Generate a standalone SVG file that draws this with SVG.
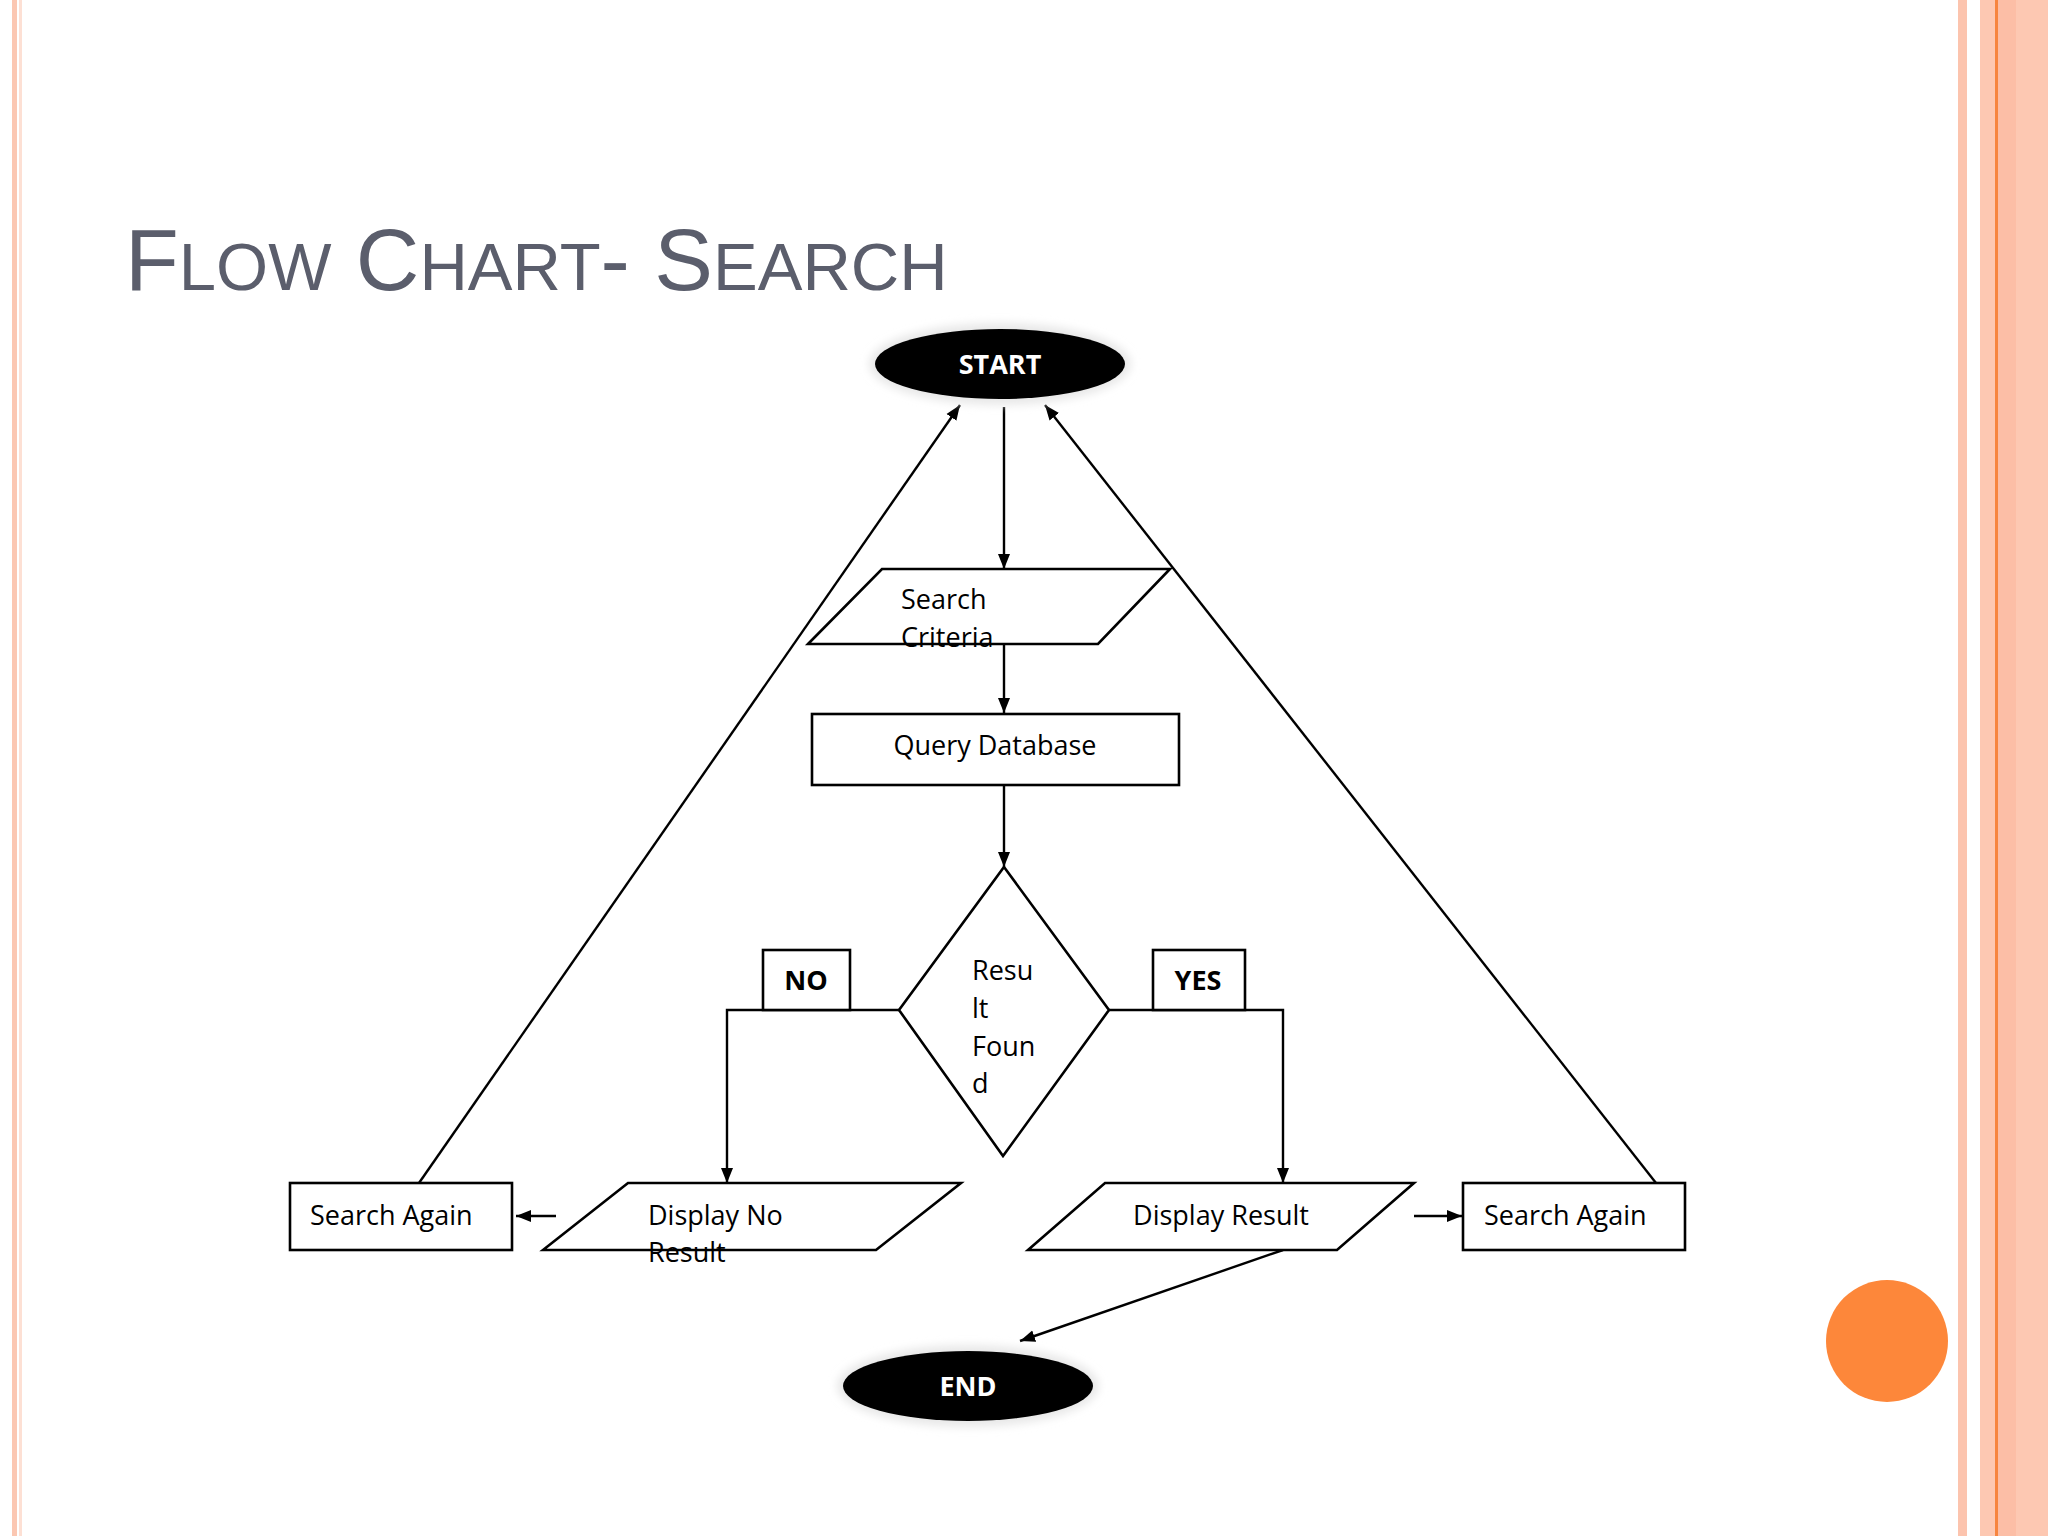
<svg xmlns="http://www.w3.org/2000/svg" width="2048" height="1536" viewBox="0 0 2048 1536">
<defs>
<marker id="ah" viewBox="0 0 10 10" refX="10" refY="5" markerWidth="15" markerHeight="15" orient="auto-start-reverse" markerUnits="userSpaceOnUse"><path d="M0,1 L10,5 L0,9 z" fill="#000"/></marker>
<filter id="glow" x="-20%" y="-40%" width="140%" height="180%"><feGaussianBlur stdDeviation="4"/></filter>
</defs>
<style>
.s{fill:#fff;stroke:#000;stroke-width:2.6}
.l{fill:none;stroke:#000;stroke-width:2.4}
.t{font-family:"Open Sans","Liberation Sans",sans-serif;font-size:27px;fill:#000}
.b{font-family:"Open Sans","Liberation Sans",sans-serif;font-size:27px;font-weight:bold}
</style>
<rect width="2048" height="1536" fill="#fff"/>
<rect x="12" y="0" width="5" height="1536" fill="#fbc7b2"/>
<rect x="19" y="0" width="3" height="1536" fill="#fde0d4"/>
<rect x="1958" y="0" width="9" height="1536" fill="#fcc4ae"/>
<rect x="1980" y="0" width="68" height="1536" fill="#fdc8b2"/>
<rect x="1996" y="0" width="20" height="1536" fill="#fcbea6"/>
<rect x="1995" y="0" width="3" height="1536" fill="#f7853f"/>
<text x="125" y="290" font-family="'Liberation Sans',sans-serif" font-size="88" fill="#5b5e6c">F<tspan font-size="67">LOW</tspan> C<tspan font-size="67">HART</tspan>- S<tspan font-size="67">EARCH</tspan></text>
<g id="connectors">
<line class="l" x1="1004" y1="407" x2="1004" y2="569" marker-end="url(#ah)"/>
<line class="l" x1="1004" y1="644" x2="1004" y2="713" marker-end="url(#ah)"/>
<line class="l" x1="1004" y1="785" x2="1004" y2="867" marker-end="url(#ah)"/>
<polyline class="l" points="899,1010 727,1010 727,1183" marker-end="url(#ah)"/>
<polyline class="l" points="1109,1010 1283,1010 1283,1183" marker-end="url(#ah)"/>
<line class="l" x1="556" y1="1216" x2="516" y2="1216" marker-end="url(#ah)"/>
<line class="l" x1="1414" y1="1216" x2="1462" y2="1216" marker-end="url(#ah)"/>
<line class="l" x1="419" y1="1183" x2="960" y2="405" marker-end="url(#ah)"/>
<line class="l" x1="1656" y1="1183" x2="1045" y2="405" marker-end="url(#ah)"/>
<line class="l" x1="1283" y1="1250" x2="1020" y2="1341" marker-end="url(#ah)"/>
</g>
<g id="start">
<ellipse cx="1000" cy="364" rx="131" ry="41" fill="#e8e8e8" filter="url(#glow)"/>
<ellipse cx="1000" cy="364" rx="125" ry="35" fill="#000"/>
<text class="b" x="1000" y="374" text-anchor="middle" fill="#fff">START</text>
</g>
<g id="search-criteria">
<polygon class="s" points="808,644 882,569 1170,569 1098,644"/>
<text class="t" x="901" y="609">Search</text>
<text class="t" x="901" y="647">Criteria</text>
</g>
<g id="query">
<rect class="s" x="812" y="714" width="367" height="71"/>
<text class="t" x="995" y="755" text-anchor="middle">Query Database</text>
</g>
<g id="decision">
<polygon class="s" points="1004,867 1109,1010 1003,1156 899,1010"/>
<text class="t" x="972" y="980">Resu</text>
<text class="t" x="972" y="1018">lt</text>
<text class="t" x="972" y="1056">Foun</text>
<text class="t" x="972" y="1093">d</text>
</g>
<g id="no">
<rect class="s" x="763" y="950" width="87" height="60"/>
<text class="b" x="806" y="990" text-anchor="middle">NO</text>
</g>
<g id="yes">
<rect class="s" x="1153" y="950" width="92" height="60"/>
<text class="b" x="1198" y="990" text-anchor="middle">YES</text>
</g>
<g id="display-no">
<polygon class="s" points="543,1250 628,1183 961,1183 876,1250"/>
<text class="t" x="648" y="1225">Display No</text>
<text class="t" x="648" y="1262">Result</text>
</g>
<g id="display-result">
<polygon class="s" points="1028,1250 1105,1183 1414,1183 1337,1250"/>
<text class="t" x="1221" y="1225" text-anchor="middle">Display Result</text>
</g>
<g id="search-again-left">
<rect class="s" x="290" y="1183" width="222" height="67"/>
<text class="t" x="310" y="1225">Search Again</text>
</g>
<g id="search-again-right">
<rect class="s" x="1463" y="1183" width="222" height="67"/>
<text class="t" x="1484" y="1225">Search Again</text>
</g>
<g id="end">
<ellipse cx="968" cy="1386" rx="131" ry="41" fill="#e8e8e8" filter="url(#glow)"/>
<ellipse cx="968" cy="1386" rx="125" ry="35" fill="#000"/>
<text class="b" x="968" y="1396" text-anchor="middle" fill="#fff">END</text>
</g>
<circle cx="1887" cy="1341" r="61" fill="#fd873a"/>
</svg>
